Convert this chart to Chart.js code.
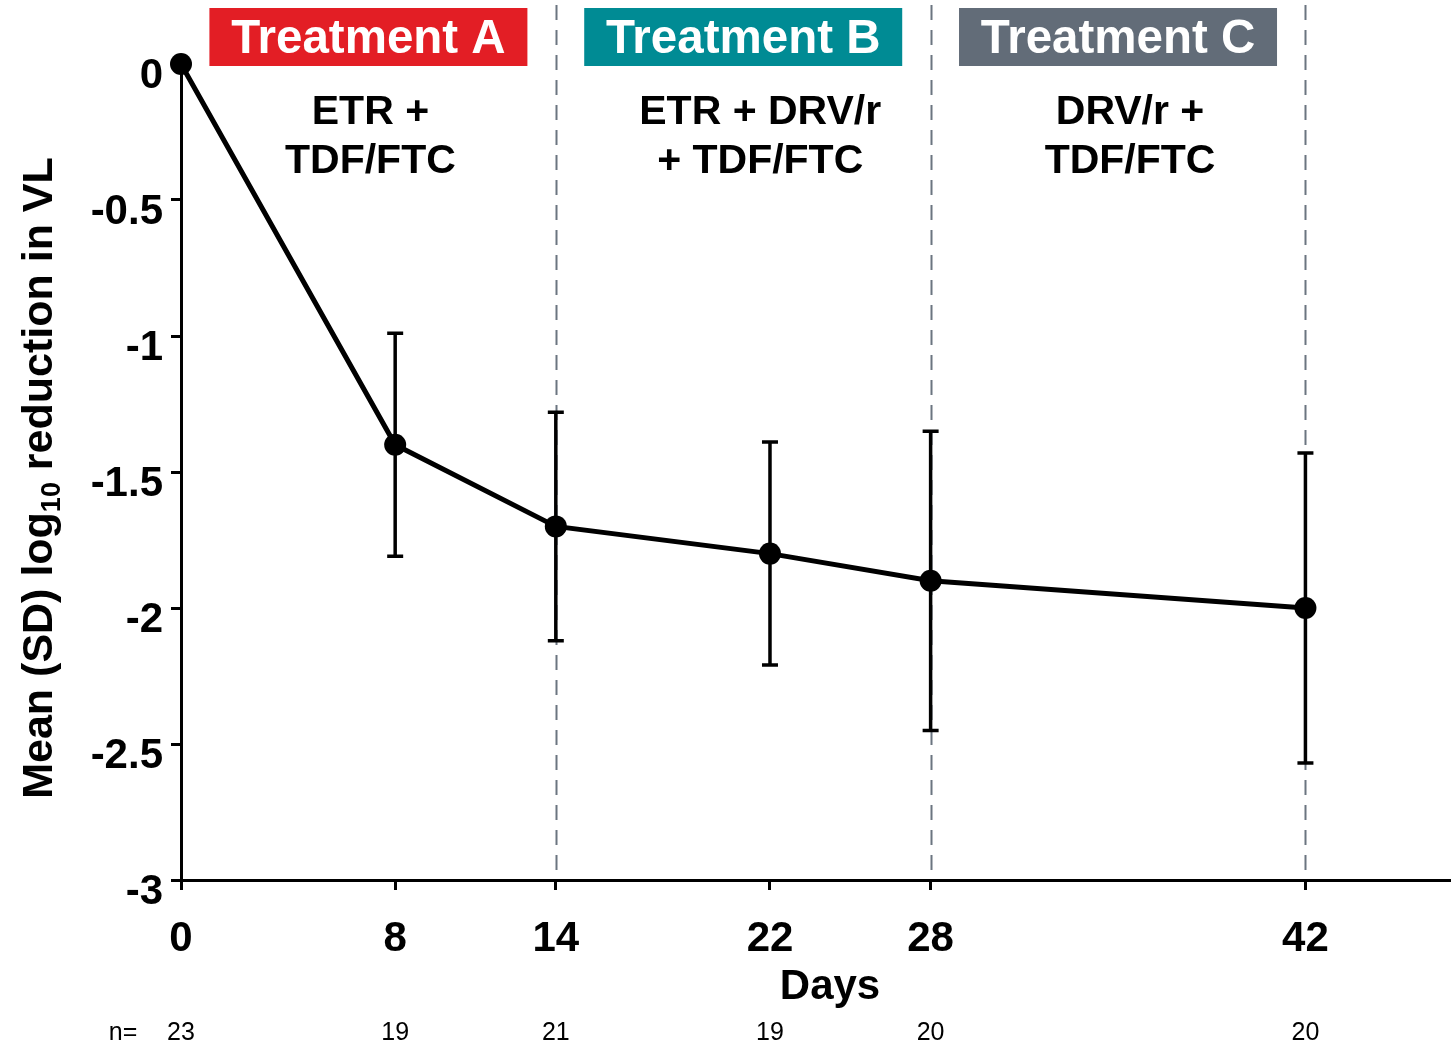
<!DOCTYPE html>
<html>
<head>
<meta charset="utf-8">
<script src="https://cdn.jsdelivr.net/npm/chart.js@4/dist/chart.umd.min.js"></script>
<style>
  html, body { margin: 0; padding: 0; background: #ffffff; }
  #wrap { width: 1452px; height: 1046px; position: relative; }
</style>
</head>
<body>
<div id="wrap"><canvas id="c" width="1452" height="1046"></canvas></div>
<script>
// ---- Data ----
const days = [0, 8, 14, 22, 28, 42];
const meanReduction = [0, -1.40, -1.70, -1.80, -1.90, -2.00];
const sdValues = [null, 0.41, 0.42, 0.41, 0.55, 0.57];
const nValues = [23, 19, 21, 19, 20, 20];
const xTickValues = [0, 8, 14, 22, 28, 42];
const yTickValues = [0, -0.5, -1, -1.5, -2, -2.5, -3];
const phaseBoundaries = [0, 14, 28, 42];
const phaseTitles = ['Treatment A', 'Treatment B', 'Treatment C'];
const phaseRegimens = [['ETR +', 'TDF/FTC'], ['ETR + DRV/r', '+ TDF/FTC'], ['DRV/r +', 'TDF/FTC']];

// ---- Styles ----
const FONT = '"Liberation Sans", Arial, Helvetica, sans-serif';
const phaseColors = ['#e31e25', '#008b94', '#626c78'];
const regimenNudge = [2, 17, 12];
const dashColor = '#6b7580';

const points = days.map((d, i) => ({ x: d, y: meanReduction[i] }));

const errorBarPlugin = {
  id: 'errorBars',
  afterDatasetsDraw(chart) {
    const { ctx, scales: { x, y } } = chart;
    ctx.save();
    ctx.strokeStyle = '#000';
    ctx.lineWidth = 3.5;
    ctx.lineCap = 'butt';
    days.forEach((d, i) => {
      const sd = sdValues[i];
      if (sd == null) return;
      const px = x.getPixelForValue(d);
      const top = y.getPixelForValue(meanReduction[i] + sd);
      const bot = y.getPixelForValue(meanReduction[i] - sd);
      ctx.beginPath();
      ctx.moveTo(px, top); ctx.lineTo(px, bot);
      ctx.moveTo(px - 8, top); ctx.lineTo(px + 8, top);
      ctx.moveTo(px - 8, bot); ctx.lineTo(px + 8, bot);
      ctx.stroke();
    });
    ctx.restore();
  }
};

const decorPlugin = {
  id: 'decor',
  beforeDatasetsDraw(chart) {
    const { ctx, chartArea, scales: { x } } = chart;
    ctx.save();
    ctx.strokeStyle = dashColor;
    ctx.lineWidth = 2;
    ctx.setLineDash([15, 10]);
    phaseBoundaries.slice(1).forEach(b => {
      const px = Math.round(x.getPixelForValue(b)) + 0.5;
      ctx.beginPath();
      ctx.moveTo(px, 5);
      ctx.lineTo(px, chartArea.bottom);
      ctx.stroke();
    });
    ctx.setLineDash([]);
    for (let i = 0; i < phaseTitles.length; i++) {
      const mid = x.getPixelForValue((phaseBoundaries[i] + phaseBoundaries[i + 1]) / 2);
      const w = 318, h = 58;
      ctx.fillStyle = phaseColors[i];
      ctx.fillRect(mid - w / 2, 8, w, h);
      ctx.fillStyle = '#ffffff';
      ctx.font = 'bold 47.5px ' + FONT;
      ctx.textAlign = 'center';
      ctx.textBaseline = 'middle';
      ctx.fillText(phaseTitles[i], mid, 40);
      ctx.fillStyle = '#000000';
      ctx.font = 'bold 41px ' + FONT;
      phaseRegimens[i].forEach((line, j) => {
        ctx.fillText(line, mid + regimenNudge[i], 113 + j * 49);
      });
    }
    ctx.restore();
  },
  afterDraw(chart) {
    const { ctx, scales: { x } } = chart;
    ctx.save();
    ctx.fillStyle = '#000';
    ctx.font = 'bold 42px ' + FONT;
    ctx.textAlign = 'center';
    ctx.textBaseline = 'middle';
    ctx.fillText('Days', 830, 987);
    ctx.font = '25px ' + FONT;
    ctx.fillText('n=', 123, 1033);
    days.forEach((d, i) => {
      ctx.fillText(String(nValues[i]), x.getPixelForValue(d), 1033);
    });
    // y title with subscript
    ctx.translate(37, 478);
    ctx.rotate(-Math.PI / 2);
    const big = 'bold 43px ' + FONT, small = 'bold 27px ' + FONT;
    const p1 = 'Mean (SD) log', p2 = '10', p3 = ' reduction in VL';
    ctx.font = big; const w1 = ctx.measureText(p1).width, w3 = ctx.measureText(p3).width;
    ctx.font = small; const w2 = ctx.measureText(p2).width;
    let sx = -(w1 + w2 + w3) / 2;
    ctx.textAlign = 'left';
    ctx.textBaseline = 'alphabetic';
    ctx.font = big; ctx.fillText(p1, sx, 15); sx += w1;
    ctx.font = small; ctx.fillText(p2, sx, 23); sx += w2;
    ctx.font = big; ctx.fillText(p3, sx, 15);
    ctx.restore();
  }
};

new Chart(document.getElementById('c'), {
  type: 'line',
  data: {
    datasets: [{
      data: points,
      borderColor: '#000',
      backgroundColor: '#000',
      borderWidth: 5,
      pointRadius: 11,
      pointBorderWidth: 0,
      pointBackgroundColor: '#000',
      tension: 0,
      clip: false
    }]
  },
  options: {
    responsive: false,
    animation: false,
    devicePixelRatio: 1,
    layout: { autoPadding: false, padding: { top: 64, left: 0, right: 2, bottom: 0 } },
    plugins: { legend: { display: false }, tooltip: { enabled: false } },
    scales: {
      x: {
        type: 'linear',
        min: 0,
        max: 47.4,
        afterFit(s) { s.height = 166; s.paddingLeft = 0; s.paddingRight = 0; },
        afterBuildTicks(s) { s.ticks = xTickValues.map(v => ({ value: v })); },
        border: { display: true, color: '#000', width: 3 },
        grid: { drawOnChartArea: false, drawTicks: true, tickLength: 10, tickColor: '#000', tickWidth: 3 },
        ticks: {
          color: '#000',
          font: { family: FONT, size: 42, weight: 'bold' },
          padding: 24,
          maxRotation: 0,
          autoSkip: false,
          callback: v => String(v)
        }
      },
      y: {
        type: 'linear',
        min: -3,
        max: 0,
        afterFit(s) { s.width = 181; s.paddingTop = 0; s.paddingBottom = 0; },
        afterBuildTicks(s) { s.ticks = yTickValues.map(v => ({ value: v })); },
        border: { display: true, color: '#000', width: 3 },
        grid: { drawOnChartArea: false, drawTicks: true, tickLength: 10, tickColor: '#000', tickWidth: 3 },
        ticks: {
          color: '#000',
          font: { family: FONT, size: 42, weight: 'bold' },
          padding: 8,
          labelOffset: 12,
          autoSkip: false,
          callback: v => String(v)
        }
      }
    }
  },
  plugins: [decorPlugin, errorBarPlugin]
});
</script>
</body>
</html>
